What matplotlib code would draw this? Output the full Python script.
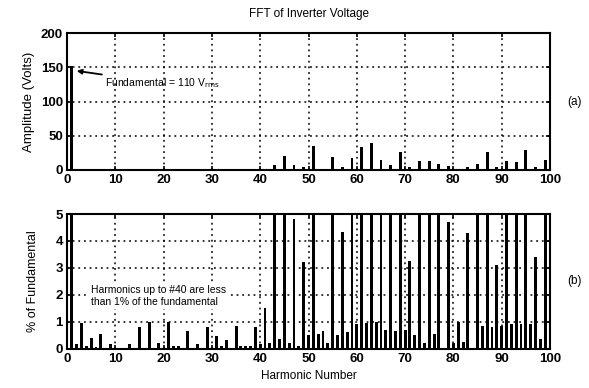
import numpy as np
import matplotlib.pyplot as plt

plt.rcParams["font.family"] = ["Liberation Sans", "DejaVu Sans"]

# (a) amplitude spectrum, volts, odd harmonics only
harm_a = [1, 43, 45, 47, 49, 51, 55, 57, 59, 61, 63, 65, 67, 69, 71, 73, 75,
          77, 79, 81, 83, 85, 87, 89, 91, 93, 95, 97, 99]
volts = [152, 7, 21, 7, 4, 35, 19, 5, 18, 33, 39, 15, 8, 26, 4, 13, 13,
         9, 6, 1, 4, 9, 26, 4, 13, 12, 29, 4, 14]

# (b) percent of fundamental, harmonics 1..99 (values above 5 are clipped)
harm_b = list(range(1, 100))
pct = [100, 0.15, 0.95, 0.08, 0.4, 0.05, 0.55, 0.03, 0.15, 0.03,
       0.03, 0.03, 0.15, 0.02, 0.8, 0.03, 1.0, 0.03, 0.2, 0.03,
       1.0, 0.1, 0.1, 0.03, 0.65, 0.03, 0.15, 0.03, 0.8, 0.03,
       0.45, 0.08, 0.3, 0.03, 0.85, 0.1, 0.1, 0.1, 0.8, 0.15,
       1.5, 0.2, 6, 0.35, 13.5, 0.2, 4.8, 0.1, 3.2, 0.5,
       22, 0.55, 0.65, 0.2, 12, 0.5, 4.35, 0.6, 11.5, 0.9,
       20.5, 0.95, 24.5, 1.0, 9.5, 0.7, 6, 0.65, 16, 0.7,
       3.25, 0.5, 8.5, 0.2, 8.5, 0.55, 6, 0.02, 4.7, 0.2,
       1.0, 0.25, 4.3, 0.02, 5.5, 0.85, 16, 0.8, 3.1, 0.85,
       8.5, 0.9, 7, 0.9, 18, 0.9, 3.4, 0.35, 9]

xticks = np.arange(0, 101, 10)

fig = plt.figure(figsize=(5.89, 3.88), dpi=100)
ax1 = fig.add_axes([0.1138, 0.5619, 0.820, 0.3523])
ax2 = fig.add_axes([0.1138, 0.1018, 0.820, 0.3466])


def style(ax, yticks):
    ax.set_xlim(0, 100)
    ax.set_xticks(xticks)
    ax.set_yticks(yticks)
    ax.grid(True, color="black", linestyle=(0, (1.2, 2.5)), linewidth=1.1)
    ax.set_axisbelow(True)
    ax.tick_params(direction="in", length=3, width=1.2, top=True, right=True,
                   labelsize=9.5, pad=3)
    for lbl in ax.get_xticklabels() + ax.get_yticklabels():
        lbl.set_fontweight("bold")
    for s in ax.spines.values():
        s.set_linewidth(1.5)


ax1.bar(harm_a, volts, width=0.6, color="black")
ax1.set_ylim(0, 200)
style(ax1, [0, 50, 100, 150, 200])
ax1.set_ylabel("Amplitude (Volts)", fontsize=9.5)
ax1.set_title("FFT of Inverter Voltage", fontsize=8.5, pad=12)
ax1.annotate("Fundamental = 110 V$_{\\rm rms}$", xy=(2.0, 145), xytext=(7.8, 127),
             fontsize=7.5, va="center",
             arrowprops=dict(arrowstyle="-|>", color="black", lw=1.3,
                             mutation_scale=7, shrinkA=0, shrinkB=0))
ax1.text(1.035, 0.5, "(a)", transform=ax1.transAxes, fontsize=8.5, va="center")

ax2.bar(harm_b, pct, width=0.6, color="black")
ax2.set_ylim(0, 5)
style(ax2, [0, 1, 2, 3, 4, 5])
ax2.set_ylabel("% of Fundamental", fontsize=9, labelpad=12)
ax2.set_xlabel("Harmonic Number", fontsize=8.5)
ax2.text(5.0, 1.95, "Harmonics up to #40 are less\nthan 1% of the fundamental",
         fontsize=7.5, va="center", linespacing=1.3,
         bbox=dict(facecolor="white", edgecolor="none", pad=1.5))
ax2.text(1.035, 0.5, "(b)", transform=ax2.transAxes, fontsize=8.5, va="center")

fig.savefig("out.png", dpi=100)
